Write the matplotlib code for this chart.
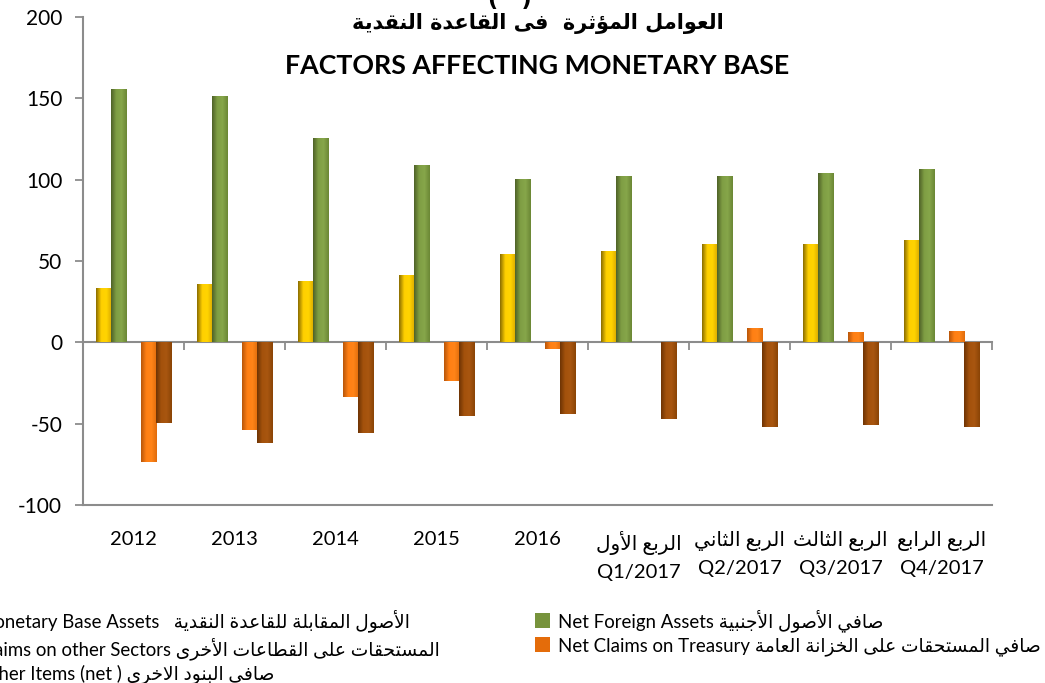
import numpy as np
import matplotlib
matplotlib.use("Agg")
import matplotlib.pyplot as plt
from matplotlib.colors import LinearSegmentedColormap

plt.rcParams['font.family'] = ['Lato', 'DejaVu Sans']

# ---- Arabic shaping (matplotlib has no shaping / bidi) ----
# base code point in Presentation Forms-B and number of forms (iso, fin, ini, med)
_AR = {
    'ء': (0xFE80, 1), 'آ': (0xFE81, 2), 'أ': (0xFE83, 2), 'ؤ': (0xFE85, 2), 'إ': (0xFE87, 2),
    'ئ': (0xFE89, 4), 'ا': (0xFE8D, 2), 'ب': (0xFE8F, 4), 'ة': (0xFE93, 2), 'ت': (0xFE95, 4),
    'ث': (0xFE99, 4), 'ج': (0xFE9D, 4), 'ح': (0xFEA1, 4), 'خ': (0xFEA5, 4), 'د': (0xFEA9, 2),
    'ذ': (0xFEAB, 2), 'ر': (0xFEAD, 2), 'ز': (0xFEAF, 2), 'س': (0xFEB1, 4), 'ش': (0xFEB5, 4),
    'ص': (0xFEB9, 4), 'ض': (0xFEBD, 4), 'ط': (0xFEC1, 4), 'ظ': (0xFEC5, 4), 'ع': (0xFEC9, 4),
    'غ': (0xFECD, 4), 'ف': (0xFED1, 4), 'ق': (0xFED5, 4), 'ك': (0xFED9, 4), 'ل': (0xFEDD, 4),
    'م': (0xFEE1, 4), 'ن': (0xFEE5, 4), 'ه': (0xFEE9, 4), 'و': (0xFEED, 2), 'ى': (0xFEEF, 2),
    'ي': (0xFEF1, 4),
}
_LAM_ALEF = {'آ': 0xFEF5, 'أ': 0xFEF7, 'إ': 0xFEF9, 'ا': 0xFEFB}


def ar(text):
    tokens = []
    i = 0
    while i < len(text):
        c = text[i]
        if c == 'ل' and i + 1 < len(text) and text[i + 1] in _LAM_ALEF:
            tokens.append(('LA', _LAM_ALEF[text[i + 1]]))
            i += 2
        else:
            tokens.append((c, None))
            i += 1
    out = []
    for k, (c, lig) in enumerate(tokens):
        prev = tokens[k - 1][0] if k > 0 else None
        nxt = tokens[k + 1][0] if k + 1 < len(tokens) else None
        joins_prev = prev in _AR and _AR[prev][1] == 4
        if c == 'LA':
            out.append(chr(lig + (1 if joins_prev else 0)))
            continue
        if c not in _AR:
            out.append(c)
            continue
        base, n = _AR[c]
        joins_next = n == 4 and (nxt in _AR or nxt == 'LA')
        if n == 1:
            form = 0
        elif joins_prev and joins_next:
            form = 3
        elif joins_prev:
            form = 1
        elif joins_next:
            form = 2
        else:
            form = 0
        out.append(chr(base + form))
    return ''.join(reversed(out))


# ---- data ----
categories = ['2012', '2013', '2014', '2015', '2016',
              ar('الربع الأول') + '\nQ1/2017', ar('الربع الثاني') + '\nQ2/2017',
              ar('الربع الثالث') + '\nQ3/2017', ar('الربع الرابع') + '\nQ4/2017']
monetary_base_assets = [33.5, 36.1, 37.5, 41.2, 54.1, 56.2, 60.7, 60.7, 62.8]
net_foreign_assets = [156.0, 151.6, 125.7, 109.3, 100.7, 102.2, 102.4, 103.8, 106.5]
claims_other_sectors = [0, 0, 0, 0, 0, 0, 0, 0, 0]
net_claims_treasury = [-73.6, -54.2, -33.6, -24.0, -3.9, 0, 9.0, 6.4, 7.0]
other_items_net = [-49.6, -61.7, -55.8, -45.5, -44.3, -47.0, -52.0, -51.0, -52.0]

series_labels = [
    'Monetary Base Assets   ' + ar('الأصول المقابلة للقاعدة النقدية'),
    'Net Foreign Assets ' + ar('صافي الأصول الأجنبية'),
    'Claims on other Sectors ' + ar('المستحقات على القطاعات الأخرى'),
    'Net Claims on Treasury ' + ar('صافي المستحقات على الخزانة العامة'),
    'Other Items (net ) ' + ar('صافى البنود الاخرى'),
]
yticks = [-100, -50, 0, 50, 100, 150, 200]

title_ar = ar('العوامل المؤثرة  فى القاعدة النقدية')
title_en = 'FACTORS AFFECTING MONETARY BASE'

# ---- style ----
gray = '#8c8c8c'
base_colors = ['#FFC000', '#77933C', '#4BACC6', '#E46C0A', '#984807']
gradients = [
    ['#8a6d00', '#ffd000', '#ffd400', '#d9a800'],
    ['#4f6228', '#7f9e44', '#86a64a', '#6b8735'],
    ['#2e7c91', '#5cbfd8', '#5cbfd8', '#4aa6be'],
    ['#b8560a', '#ff7f14', '#ff8418', '#e06c0c'],
    ['#6e3404', '#a4520c', '#a85610', '#8a4406'],
]

fig = plt.figure(figsize=(10.45, 6.83), dpi=100)
ax = fig.add_axes([83 / 1045, 1 - 505 / 683, 909 / 1045, 488 / 683])

x = np.arange(len(categories))
width = 0.15
all_series = [monetary_base_assets, net_foreign_assets, claims_other_sectors,
              net_claims_treasury, other_items_net]
containers = []
for i, vals in enumerate(all_series):
    offs = (i - 2) * width
    bars = ax.bar(x + offs, vals, width, color=base_colors[i], zorder=2,
                  label=series_labels[i], linewidth=0)
    containers.append(bars)
    cmap = LinearSegmentedColormap.from_list('g%d' % i, gradients[i])
    grad = np.linspace(0, 1, 64).reshape(1, -1)
    for b in bars:
        h = b.get_height()
        if h == 0:
            continue
        bx, by, bw = b.get_x(), b.get_y(), b.get_width()
        im = ax.imshow(grad, extent=[bx, bx + bw, by, by + h], aspect='auto',
                       cmap=cmap, zorder=2.5, interpolation='bilinear')
        im.set_clip_path(b)

ax.set_xlim(-0.5, len(categories) - 0.5)
ax.set_ylim(-100, 200)
ax.set_aspect('auto')

ax.set_yticks(yticks)
ax.set_yticklabels([str(v) for v in yticks])
ax.tick_params(axis='y', direction='out', length=6, width=1.3, color=gray,
               labelsize=15, pad=9)
ax.set_xticks(x)
ax.set_xticklabels(categories, linespacing=1.6)
ax.tick_params(axis='x', length=0, labelsize=14.5, pad=19)

for s in ['top', 'right']:
    ax.spines[s].set_visible(False)
for s in ['left', 'bottom']:
    ax.spines[s].set_color(gray)
    ax.spines[s].set_linewidth(1.5)

# category axis running through zero
ymin, ymax = ax.get_ylim()
sec = ax.secondary_xaxis((0 - ymin) / (ymax - ymin))
sec.set_xticks(np.arange(-0.5, len(categories), 1.0))
sec.tick_params(axis='x', direction='out', length=6, width=1.3, color=gray,
                labelbottom=False)
sec.spines['bottom'].set_color(gray)
sec.spines['bottom'].set_linewidth(1.5)

# titles
cx = (83 + 992) / 2 / 1045
fig.text(510 / 1045, 1.0, '(   )', ha='center', va='center', fontsize=16,
         fontweight='bold', family=['DejaVu Sans'])
fig.text(cx, 1 - 23 / 683, title_ar, ha='center', va='center', fontsize=15,
         fontweight='bold', family=['DejaVu Sans'])
fig.text(cx, 1 - 66 / 683, title_en, ha='center', va='center', fontsize=19.3,
         fontweight='bold')

# legend in two columns, left one runs off the figure
hl = [containers[0], containers[2], containers[4]]
hr = [containers[1], containers[3]]
leg_kw = dict(frameon=False, fontsize=13.4, handlelength=0.8, handleheight=0.8,
              handletextpad=0.45, labelspacing=0.28, borderpad=0, borderaxespad=0)
fig.legend(hl, [h.get_label() for h in hl], loc='upper right',
           bbox_to_anchor=(440 / 1045, 1 - 609 / 683), **leg_kw)
fig.legend(hr, [h.get_label() for h in hr], loc='upper left',
           bbox_to_anchor=(535 / 1045, 1 - 609 / 683), **leg_kw)

fig.savefig('out.png', dpi=100)
